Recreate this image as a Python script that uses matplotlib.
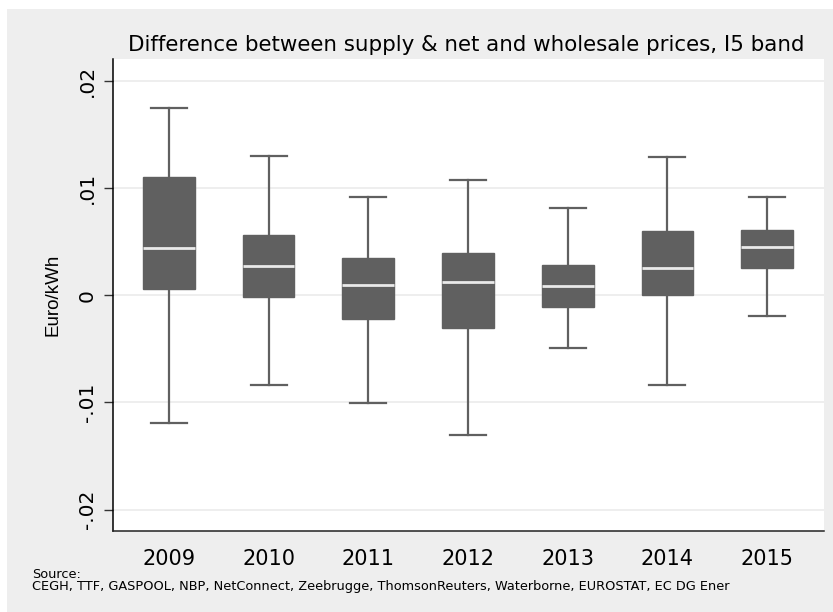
import matplotlib
matplotlib.use('Agg')
import matplotlib.pyplot as plt
from matplotlib.patches import Rectangle

# 数据
years = ['2009', '2010', '2011', '2012', '2013', '2014', '2015']
whisker_low = [-0.0119, -0.00836, -0.0101, -0.0130, -0.00494, -0.00836, -0.00193]
q1 = [0.00056, -0.00016, -0.00221, -0.0031, -0.00109, 0.00007, 0.00258]
median = [0.00438, 0.00277, 0.00093, 0.00121, 0.00084, 0.00258, 0.0045]
q3 = [0.01103, 0.00559, 0.00351, 0.00398, 0.00286, 0.00596, 0.00606]
whisker_high = [0.01752, 0.0130, 0.00916, 0.01078, 0.00817, 0.01295, 0.00913]
yticks = [-0.02, -0.01, 0, 0.01, 0.02]
ytick_labels = ['-.02', '-.01', '0', '.01', '.02']

title = 'Difference between supply & net and wholesale prices, I5 band'
source = ('Source:\nCEGH, TTF, GASPOOL, NBP, NetConnect, Zeebrugge, ThomsonReuters, '
          'Waterborne, EUROSTAT, EC DG Ener')

box_col = '#606060'
panel_col = '#EEEEEE'

fig = plt.figure(figsize=(8.33, 6.12), dpi=100, facecolor='white')
# 灰色背景
fig.add_artist(Rectangle((7 / 833, 0), 1 - 7 / 833, 1 - 9 / 612,
                         transform=fig.transFigure, facecolor=panel_col,
                         edgecolor='none', zorder=-10))
ax = fig.add_axes([113 / 833, 81 / 612, 711 / 833, 472 / 612])
ax.set_facecolor('white')

stats = []
for i in range(len(years)):
    stats.append({'label': years[i], 'whislo': whisker_low[i], 'q1': q1[i],
                  'med': median[i], 'q3': q3[i], 'whishi': whisker_high[i],
                  'fliers': []})

ax.bxp(stats, positions=range(1, len(years) + 1), widths=0.52,
       patch_artist=True, showfliers=False,
       boxprops=dict(facecolor=box_col, edgecolor=box_col, linewidth=1.0),
       medianprops=dict(color='#EAEAEA', linewidth=2.0),
       whiskerprops=dict(color=box_col, linewidth=1.6),
       capprops=dict(color=box_col, linewidth=1.6),
       capwidths=0.36)

ax.set_xlim(0.44, 7.57)
ax.set_ylim(-0.022, 0.02205)
ax.set_yticks(yticks)
ax.set_yticklabels(ytick_labels, rotation=90, va='center', fontsize=14.5)
ax.tick_params(axis='y', length=6.5, width=1.0, color='#333333', pad=5)
ax.tick_params(axis='x', length=0, pad=13, labelsize=15)
ax.grid(axis='y', color='#EBEBEB', linewidth=1.2)
ax.set_axisbelow(True)
for s in ['top', 'right']:
    ax.spines[s].set_visible(False)
ax.spines['left'].set_linewidth(1.1)
ax.spines['bottom'].set_linewidth(1.1)
ax.spines['bottom'].set_color('#222222')

ax.set_ylabel('Euro/kWh', fontsize=13.5, family='Liberation Sans', labelpad=12)
fig.text(466 / 833, 1 - 45 / 612, title, ha='center', va='center',
         fontsize=15.4)
fig.text(32 / 833, 1 - 593 / 612, source, ha='left', va='bottom',
         fontsize=9.3, linespacing=0.95)

plt.savefig('out.png', dpi=100, facecolor=fig.get_facecolor())
